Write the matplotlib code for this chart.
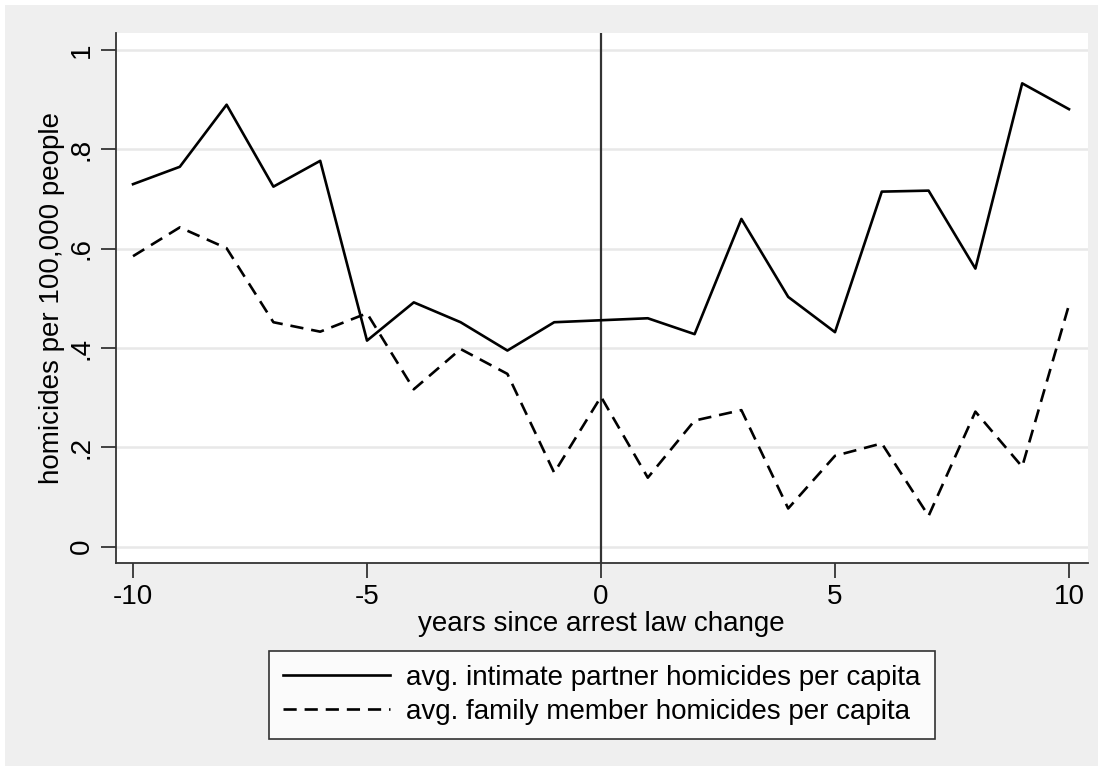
import numpy as np
import matplotlib
matplotlib.use("Agg")
import matplotlib.pyplot as plt
from matplotlib.patches import Rectangle

plt.rcParams['font.family'] = ['Liberation Sans', 'DejaVu Sans']

years = list(range(-10, 11))
partner = [0.730, 0.765, 0.890, 0.725, 0.777, 0.415, 0.492, 0.452, 0.395, 0.452, 0.456,
           0.460, 0.428, 0.660, 0.503, 0.432, 0.715, 0.717, 0.560, 0.933, 0.881]
family = [0.585, 0.643, 0.601, 0.452, 0.433, 0.470, 0.317, 0.398, 0.348, 0.149, 0.302,
          0.139, 0.254, 0.275, 0.077, 0.183, 0.208, 0.062, 0.272, 0.161, 0.487]
yticks = [0, 0.2, 0.4, 0.6, 0.8, 1]
yticklabels = ['0', '.2', '.4', '.6', '.8', '1']
xticks = [-10, -5, 0, 5, 10]

W, H = 1103, 771
fig = plt.figure(figsize=(W / 100, H / 100), dpi=100, facecolor='white')
fig.patches.append(Rectangle((5 / W, 5 / H), 1 - 10 / W, 1 - 10 / H, transform=fig.transFigure,
                             facecolor='#efefef', edgecolor='none', zorder=-10))

ax = fig.add_axes([115.7 / W, 1 - 563 / H, (1087.7 - 115.7) / W, (563 - 32.7) / H])
ax.set_facecolor('white')

ax.plot(years, partner, color='black', lw=1.9, label='avg. intimate partner homicides per capita')
ax.plot(years, family, color='black', lw=1.9, linestyle=(0, (5, 3)),
        label='avg. family member homicides per capita')
ax.axvline(0, color='#333333', lw=1.6, zorder=1)

ax.set_xlim(-10.37, 10.40)
ax.set_ylim(-0.0328, 1.035)
ax.set_yticks(yticks)
ax.set_yticklabels(yticklabels, rotation=90, va='center')
ax.set_xticks(xticks)
ax.set_xticklabels(['-10', '-5', '0', '5', '10'])
ax.grid(axis='y', color='#e8e8e8', lw=1.8)
ax.set_axisbelow(True)
ax.tick_params(length=11, width=1.3, color='#333333', labelsize=20, pad=4)

for side in ['top', 'right']:
    ax.spines[side].set_visible(False)
for side in ['left', 'bottom']:
    ax.spines[side].set_color('#333333')
    ax.spines[side].set_linewidth(1.3)

ax.set_xlabel('years since arrest law change', fontsize=20, labelpad=1)
ax.set_ylabel('homicides per 100,000 people', fontsize=20, labelpad=3)

leg = fig.legend(loc='upper center', bbox_to_anchor=(601.7 / W, 1 - 650.7 / H), fontsize=20,
                 frameon=True, fancybox=False, edgecolor='black', handlelength=3.85,
                 borderpad=0.5, labelspacing=0.3, handletextpad=0.6, borderaxespad=0)
leg.get_frame().set_linewidth(1.2)
leg.get_frame().set_facecolor('white')

fig.savefig('out.png', dpi=100, facecolor=fig.get_facecolor())
